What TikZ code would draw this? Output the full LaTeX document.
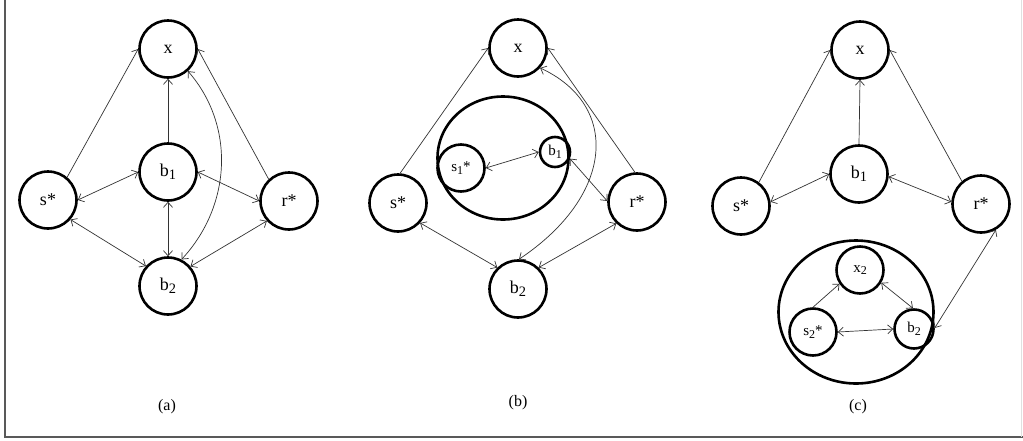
\documentclass[tikz,border=0pt]{standalone}
\usepackage{fontspec}
\setmainfont{Liberation Serif}
\usetikzlibrary{arrows.meta,shapes.geometric}
\newcommand\mysubt[1]{\raisebox{-0.4ex}{\scalebox{0.8}{#1}}}
\begin{document}
\begin{tikzpicture}[x=1pt,y=-1pt,
  bignode/.style={circle,draw,line width=2.6pt,minimum size=57pt,inner sep=0pt,font=\fontsize{18}{18}\selectfont},
  smallnode/.style={circle,draw,line width=2.6pt,inner sep=0pt,font=\fontsize{15}{15}\selectfont},
  groupring/.style={ellipse,draw,line width=2.6pt,inner sep=0pt},
  conn/.style={draw=black!80,line width=0.7pt},
  one/.style={conn,-{Straight Barb[length=5pt,width=9pt]}},
  two/.style={conn,{Straight Barb[length=5pt,width=9pt]}-{Straight Barb[length=5pt,width=9pt]}},
  caption/.style={font=\fontsize{16}{16}\selectfont}]
\useasboundingbox (0,0) rectangle (1023,440);
\fill[white] (0,0) rectangle (1023,440);
\draw[black!65,line width=1.6pt] (5,0) -- (5,437) -- (1023,437);
\draw[black!12,line width=1pt] (1021,0) -- (1021,437);

% ---------- panel (a)
\node[bignode] (ax) at (168,49) {x};
\node[bignode] (ab1) at (168,172) {b\mysubt{1}};
\node[bignode] (as) at (48,200) {s*};
\node[bignode] (ar) at (289,201) {r*};
\node[bignode] (ab2) at (168,286) {b\mysubt{2}};
\node[caption] (acap) at (167,407) {(a)};
\draw[one] (as.50) -- (ax.west);
\draw[one] (ab1.north) -- (ax.south);
\draw[one] (ar.133) -- (ax.east);
\draw[two] (as.east) -- (ab1.west);
\draw[two] (ab1.east) -- (ar.west);
\draw[two] (ab1.south) -- (ab2.north);
\draw[two] (as.-41) -- (ab2.138);
\draw[two] (ar.222) -- (ab2.41);
\draw[two] (ax.-48) .. controls (235,125) and (232,205) .. (ab2.63);

% ---------- panel (b)
\node[bignode] (bx) at (518,48) {x};
\node[groupring,minimum width=131pt,minimum height=123pt] (bg) at (503,158) {};
\node[smallnode,minimum size=47pt] (bs1) at (461,168) {s\mysubt{1}*};
\node[smallnode,minimum size=30pt] (bb1) at (555,152) {b\mysubt{1}};
\node[bignode] (bs) at (398,203) {s*};
\node[bignode] (br) at (637,202) {r*};
\node[bignode] (bb2) at (518,289) {b\mysubt{2}};
\node[caption] (bcap) at (518,403) {(b)};
\draw[one] (bs.86) -- (bx.west);
\draw[one] (br.94) -- (bx.east);
\draw[two] (bs1.east) -- (bb1.west);
\draw[two] (bb1.-24) -- (br.178);
\draw[two] (bs.-42) -- (bb2.134);
\draw[two] (br.226) -- (bb2.46);
\draw[two] (bx.-42) .. controls (620,105) and (615,195) .. (bb2.88);

% ---------- panel (c)
\node[bignode] (cx) at (860,50) {x};
\node[bignode] (cb1) at (859,174) {b\mysubt{1}};
\node[bignode] (cs) at (741,206) {s*};
\node[bignode] (cr) at (981,204) {r*};
\node[groupring,minimum width=155pt,minimum height=143pt] (cg) at (856,312) {};
\node[smallnode,minimum size=47pt] (cx2) at (860,270) {x\mysubt{2}};
\node[smallnode,minimum size=47pt] (cs2) at (813,332) {s\mysubt{2}*};
\node[smallnode,minimum size=39pt] (cb2) at (914,329) {b\mysubt{2}};
\node[caption] (ccap) at (858,407) {(c)};
\draw[one] (cs.53) -- (cx.west);
\draw[one] (cb1.north) -- (cx.south);
\draw[one] (cr.130) -- (cx.east);
\draw[two] (cs.8) -- (cb1.west);
\draw[two] (cb1.-5) -- (cr.176);
\draw[two] (cr.-60) -- (cb2.3);
\draw[one] (cs2.north) -- (cx2.214);
\draw[two] (cx2.-31) -- (cb2.93);
\draw[two] (cs2.east) -- (cb2.west);
\end{tikzpicture}
\end{document}
